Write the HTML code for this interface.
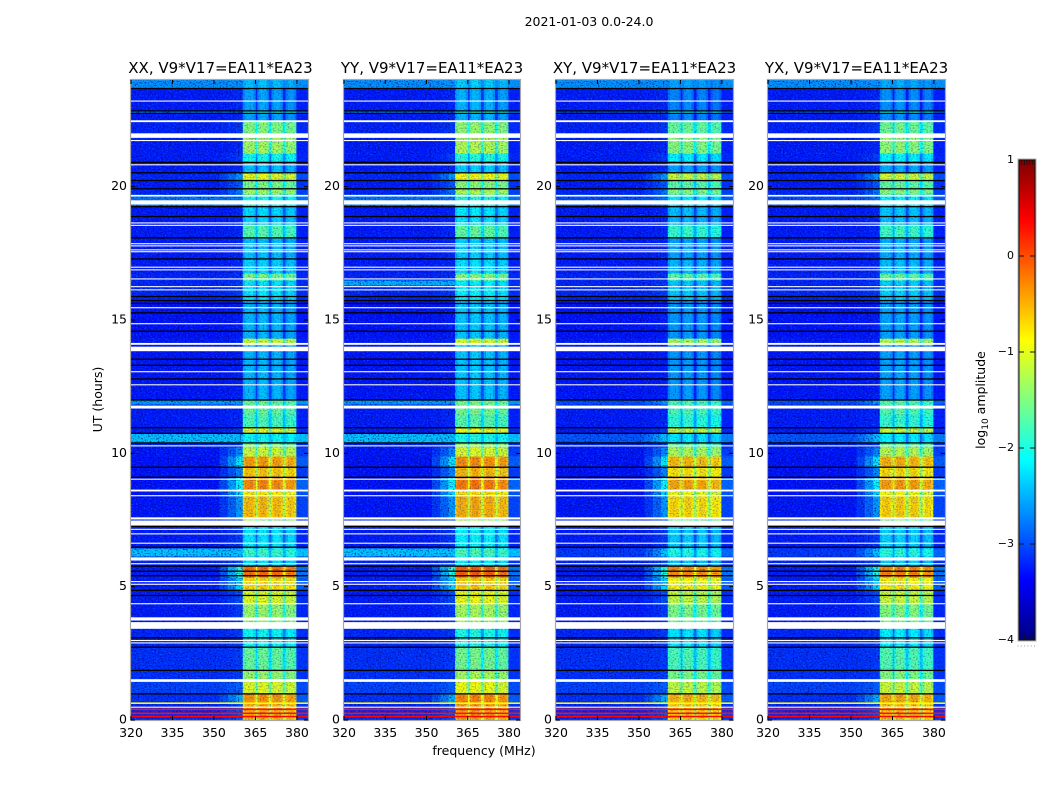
<!DOCTYPE html>
<html>
<head>
<meta charset="utf-8">
<title>2021-01-03 0.0-24.0</title>
<style>
html,body{margin:0;padding:0;background:#fff;}
svg{display:block;}
text{font-family:"DejaVu Sans","Liberation Sans",sans-serif;fill:#000;}
</style>
</head>
<body>
<svg id="chart" xmlns="http://www.w3.org/2000/svg" width="1050" height="800" viewBox="0 0 1050 800">
  <defs>
    <filter id="speckle" x="0" y="0" width="100%" height="100%" color-interpolation-filters="sRGB">
      <feTurbulence type="fractalNoise" baseFrequency="0.55 0.7" numOctaves="1" seed="7"/>
      <feColorMatrix type="matrix" values="0 0 0 0 0.05  0 0 0 0 0.55  0 0 0 0 1  3.4 0 0 0 -1.7"/>
    </filter>
    <filter id="darkle" x="0" y="0" width="100%" height="100%" color-interpolation-filters="sRGB">
      <feTurbulence type="fractalNoise" baseFrequency="0.6 0.75" numOctaves="1" seed="23"/>
      <feColorMatrix type="matrix" values="0 0 0 0 0  0 0 0 0 0  0 0 0 0 0.45  3.4 0 0 0 -1.7"/>
    </filter>
    <linearGradient id="cb-gradient" x1="0" y1="1" x2="0" y2="0"></linearGradient>
  </defs>
  <text x="589" y="26" text-anchor="middle" font-size="12.5">2021-01-03 0.0-24.0</text>
  <text transform="translate(102,399.5) rotate(-90)" text-anchor="middle" font-size="12.5">UT (hours)</text>
  <text x="484" y="755" text-anchor="middle" font-size="12.5">frequency (MHz)</text>
  <text transform="translate(985,400) rotate(-90)" text-anchor="middle" font-size="12.5">log<tspan font-size="9" dy="3">10</tspan><tspan dy="-3"> amplitude</tspan></text>
  <g id="panels"></g>
  <g id="colorbar"></g>
</svg>
<script>
// ---- panel categories ----
var panelTitles = ["XX, V9*V17=EA11*EA23", "YY, V9*V17=EA11*EA23", "XY, V9*V17=EA11*EA23", "YX, V9*V17=EA11*EA23"];
var panelBandShift = [0, 0.08, -0.15, -0.1];
var bandShift = [0, 0.03, 0, -0.08];
var gapDepth = 0.65;
var bandEdgeDrop = 0.15;

// ---- tick labels ----
var xTicks = [320, 335, 350, 365, 380];
var yTicks = [0, 5, 10, 15, 20];
var cbTicks = [-4, -3, -2, -1, 0, 1];

// ---- frequency structure (MHz) ----
var freqLimits = [320, 384];
var shoulderStops = [352, 355, 358, 360.4];
var shoulderWeights = [0.25, 0.6, 1];
var rightWingWeight = 0.35;
var bandStarts = [360.4, 365.7, 370.8, 375.9];
var bandEnds = [365.1, 369.8, 374.9, 379.8];
var bandEdgeWidth = 0.8;

// ---- time rows: hour edges, top to bottom, and log10 amplitude per row ----
var utLimits = [0, 24];
var rowEdges = [24,23.68,22.85,22.74,22.48,21.99,21.80,21.69,21.24,20.90,20.53,20.23,19.93,19.70,19.25,18.88,18.58,18.05,17.27,16.74,16.48,15.73,14.30,14.04,11.98,11.83,11.68,11.45,10.97,10.74,10.40,10.22,9.88,9.47,9.09,8.61,8.38,7.52,7.26,6.43,6.13,5.76,5.34,4.86,4.33,3.43,2.72,1.86,1.48,0.96,0.62,0];
var rowBgParallel = [-2.65,-3.25,-2.7,-3.25,-3.22,-3.22,-3.22,-3.25,-3.25,-3.25,-3.2,-3.25,-3.2,-2.8,-3.25,-3.25,-3.25,-3.25,-3.25,-3.2,-3.2,-3.3,-3.25,-3.28,-2.6,-3.2,-3.25,-3.25,-3.25,-2.4,-3.2,-3.28,-3.3,-3.3,-3.3,-3.3,-3.28,-3.2,-3.25,-2.38,-3.2,-3.25,-3.25,-3.25,-3.25,-3.2,-3.15,-3.15,-3.05,-3.15,-3.2];
var rowBgCross = [-2.65,-3.25,-2.9,-3.25,-3.22,-3.22,-3.22,-3.25,-3.25,-3.25,-3.2,-3.25,-3.2,-3.0,-3.25,-3.25,-3.25,-3.25,-3.25,-3.2,-3.2,-3.3,-3.25,-3.28,-3.0,-3.2,-3.25,-3.25,-3.25,-2.95,-3.2,-3.28,-3.3,-3.3,-3.3,-3.3,-3.28,-3.2,-3.25,-3.1,-3.2,-3.25,-3.25,-3.25,-3.25,-3.2,-3.15,-3.15,-3.05,-3.15,-3.2];
var rowShoulder = [-2.65,-3.2,-2.7,-3.2,-3.1,-3.1,-3.1,-3.2,-3.1,-3.2,-2.6,-2.95,-2.8,-2.8,-3.2,-3.2,-3.2,-3.2,-3.2,-3.15,-3.1,-3.25,-3.2,-3.25,-2.6,-3.15,-3.2,-3.2,-3.1,-2.4,-3.1,-2.7,-2.2,-2.7,-2.1,-2.3,-2.6,-3.0,-3.1,-2.38,-3.0,-1.95,-2.3,-3.0,-3.1,-3.1,-3.1,-3.1,-2.9,-2.5,-3.0];
var rowBand = [-2.4,-2.55,-1.9,-2.55,-1.45,-1.5,-0.75,-1.3,-2.0,-2.4,-0.95,-1.5,-1.3,-2.0,-2.25,-2.3,-1.7,-2.4,-2.3,-1.5,-2.2,-2.45,-1.1,-2.45,-1.6,-1.6,-1.6,-1.75,-1.0,-2.05,-1.4,-1.1,-0.4,-0.6,-0.3,-0.8,-0.55,-1.3,-2.2,-1.8,-2.2,-0.15,-0.7,-1.0,-1.35,-2.05,-1.6,-1.35,-1.0,-0.35,-0.5];

// ---- rows bright only in the YY panel, below the receiver band ----
var yyRowUpper = [16.48];
var yyRowLower = [16.29];
var yyRowValue = [-2.5];

// ---- flagged times: white gaps as [lower hour, upper hour], black samples as hours ----
var whiteGaps = [[23.19,23.23],[22.42,22.49],[21.83,22.0],[21.71,21.75],[20.80,20.84],[19.63,19.69],[19.33,19.49],[18.62,18.66],[18.53,18.57],[17.84,17.88],[17.76,17.80],[17.61,17.65],[17.54,17.58],[16.96,17.0],[16.86,16.90],[16.52,16.56],[16.23,16.27],[16.11,16.15],[15.44,15.48],[14.84,14.88],[14.07,14.14],[13.83,14.0],[13.04,13.08],[12.55,12.59],[11.68,11.79],[10.26,10.30],[9.01,9.05],[8.57,8.64],[8.39,8.43],[7.52,7.60],[7.29,7.48],[7.13,7.17],[6.96,7.0],[6.61,6.65],[5.98,6.10],[5.84,5.88],[5.17,5.21],[5.07,5.11],[4.34,4.38],[3.73,3.85],[3.42,3.67],[2.96,3.0],[2.87,2.91],[1.43,1.53],[0.46,0.50]];
var blackFlags = [23.68,22.84,22.75,20.91,20.52,20.23,19.92,19.25,18.88,18.08,17.29,15.88,15.73,15.62,15.27,14.58,13.53,13.30,12.79,12.0,10.96,10.75,10.39,9.48,9.10,7.26,6.48,5.77,5.58,5.41,4.86,4.67,3.08,2.73,1.86,0.98];
var spikeHours = [0.63,0.40,0.25,0.13];
var spikeValues = [-0.85,0.3,0.3,0.35];

// ---- layout ----
var panelLeft = [131, 344, 556, 768];
var panelWidth = [177, 176, 177, 177];
var plotTop = 80, plotBottom = 720;
var cbLeft = 1019, cbRight = 1035, cbTop = 160, cbBottom = 640;
var cbRange = [-4, 1];

var NS = "http://www.w3.org/2000/svg";
function mk(tag, attrs, parent) {
  var el = document.createElementNS(NS, tag);
  for (var k in attrs) el.setAttribute(k, attrs[k]);
  parent.appendChild(el);
  return el;
}
function xScale(p, f) { return panelLeft[p] + (f - freqLimits[0]) / (freqLimits[1] - freqLimits[0]) * panelWidth[p]; }
function yScale(h) { return plotBottom - (h - utLimits[0]) / (utLimits[1] - utLimits[0]) * (plotBottom - plotTop); }
function cbScale(v) { return cbBottom - (v - cbRange[0]) / (cbRange[1] - cbRange[0]) * (cbBottom - cbTop); }
function clamp01(v) { return Math.max(0, Math.min(1, v)); }
function jet(t) {
  var r = clamp01(Math.min(4 * t - 1.5, -4 * t + 4.5));
  var g = clamp01(Math.min(4 * t - 0.5, -4 * t + 3.5));
  var b = clamp01(Math.min(4 * t + 0.5, -4 * t + 2.5));
  return "rgb(" + Math.round(r * 255) + "," + Math.round(g * 255) + "," + Math.round(b * 255) + ")";
}
function ampColor(v) { return jet((v - cbRange[0]) / (cbRange[1] - cbRange[0])); }

var panelsRoot = document.getElementById("panels");

panelTitles.forEach(function (title, p) {
  var g = mk("g", {}, panelsRoot);
  
  
  var x0 = xScale(p, freqLimits[0]), x1 = xScale(p, freqLimits[1]);
  var cross = (p >= 2);

  rowBand.forEach(function (band, r) {
    var yA = yScale(rowEdges[r]), yB = yScale(rowEdges[r + 1]);
    var bg = cross ? rowBgCross[r] : rowBgParallel[r];
    var sh = Math.max(bg, rowShoulder[r]);
    var segs = [[freqLimits[0], shoulderStops[0], bg]];
    shoulderWeights.forEach(function (w, i) {
      segs.push([shoulderStops[i], shoulderStops[i + 1], bg + w * (sh - bg)]);
    });
    bandStarts.forEach(function (s, b) {
      var val = band + panelBandShift[p] + bandShift[b];
      segs.push([s, s + bandEdgeWidth, val - bandEdgeDrop]);
      segs.push([s + bandEdgeWidth, bandEnds[b] - bandEdgeWidth, val]);
      segs.push([bandEnds[b] - bandEdgeWidth, bandEnds[b], val - bandEdgeDrop]);
      if (b < 3) segs.push([bandEnds[b], bandStarts[b + 1], Math.max(bg, val - gapDepth)]);
    });
    segs.push([bandEnds[3], freqLimits[1], bg + rightWingWeight * (sh - bg)]);
    segs.forEach(function (s) {
      var el = mk("rect", { x: xScale(p, s[0]).toFixed(2), y: yA.toFixed(2), width: (xScale(p, s[1]) - xScale(p, s[0]) + 0.3).toFixed(2), height: (yB - yA + 0.3).toFixed(2), fill: ampColor(s[2]) }, g);
      
      
    });
  });

  if (p === 1) {
    yyRowValue.forEach(function (v, i) {
      var yy = mk("rect", { x: x0, y: yScale(yyRowUpper[i]).toFixed(2), width: xScale(p, bandStarts[0]) - x0, height: (yScale(yyRowLower[i]) - yScale(yyRowUpper[i])).toFixed(2), fill: ampColor(v) }, g);
      
      
    });
  }

  var xSplit = xScale(p, bandStarts[0]);
  var bgBright = mk("rect", { x: x0, y: plotTop, width: xSplit - x0, height: plotBottom - plotTop, filter: "url(#speckle)", opacity: 0.45 }, g);
  
  
  var bgDark = mk("rect", { x: x0, y: plotTop, width: xSplit - x0, height: plotBottom - plotTop, filter: "url(#darkle)", opacity: 0.8 }, g);
  
  
  var bandBright = mk("rect", { x: xSplit, y: plotTop, width: x1 - xSplit, height: plotBottom - plotTop, filter: "url(#speckle)", opacity: 0.3 }, g);
  
  
  var bandDark = mk("rect", { x: xSplit, y: plotTop, width: x1 - xSplit, height: plotBottom - plotTop, filter: "url(#darkle)", opacity: 0.4 }, g);
  
  

  spikeHours.forEach(function (h, i) {
    var el = mk("rect", { x: x0, y: (yScale(h) - 0.8).toFixed(2), width: x1 - x0, height: 1.6, fill: ampColor(spikeValues[i]) }, g);
    
    
  });
  whiteGaps.forEach(function (w) {
    var el = mk("rect", { x: x0, y: yScale(w[1]).toFixed(2), width: x1 - x0, height: (yScale(w[0]) - yScale(w[1])).toFixed(2), fill: "#fff" }, g);
    
    
  });
  blackFlags.forEach(function (h) {
    var el = mk("rect", { x: x0, y: (yScale(h) - 0.65).toFixed(2), width: x1 - x0, height: 1.3, fill: "#000" }, g);
    
    
  });

  var frame = mk("rect", { x: x0 - 0.5, y: plotTop - 0.5, width: x1 - x0 + 1, height: plotBottom - plotTop + 1, fill: "none", stroke: "#a8a8a8", "stroke-width": 1.2 }, g);
  
  

  var tt = mk("text", { x: (x0 + x1) / 2 + (p === 0 ? 1 : 0), y: 73, "text-anchor": "middle", "font-size": 15 }, g);
  tt.textContent = title;
  
  

  xTicks.forEach(function (f) {
    var x = xScale(p, f);
    var a = mk("line", { x1: x, x2: x, y1: plotBottom, y2: plotBottom - 4, stroke: "#000", "stroke-width": 1 }, g);
    
    
    var b = mk("line", { x1: x, x2: x, y1: plotTop, y2: plotTop + 4, stroke: "#000", "stroke-width": 1 }, g);
    
    
    var t = mk("text", { x: x, y: 737, "text-anchor": "middle", "font-size": 12.5 }, g);
    t.textContent = f;
    
    
  });
  yTicks.forEach(function (h) {
    var y = yScale(h);
    var a = mk("line", { x1: x0, x2: x0 + 4, y1: y, y2: y, stroke: "#000", "stroke-width": 1 }, g);
    
    
    var b = mk("line", { x1: x1, x2: x1 - 4, y1: y, y2: y, stroke: "#000", "stroke-width": 1 }, g);
    
    
    var t = mk("text", { x: x0 - 4, y: y + 3.5, "text-anchor": "end", "font-size": 12.5 }, g);
    t.textContent = h;
    
    
  });
});

// ---- colour bar ----
var cb = document.getElementById("colorbar");
var grad = document.getElementById("cb-gradient");
for (var i = 0; i <= 32; i++) {
  var stop = mk("stop", { offset: (i / 32).toFixed(4), "stop-color": jet(i / 32) }, grad);
}
var cbRect = mk("rect", { x: cbLeft, y: cbTop, width: cbRight - cbLeft, height: cbBottom - cbTop, fill: "url(#cb-gradient)" }, cb);


var cbOuter = mk("rect", { x: cbLeft - 1, y: cbTop - 1, width: cbRight - cbLeft + 2, height: cbBottom - cbTop + 2, fill: "none", stroke: "#b0b0b0", "stroke-width": 1 }, cb);


var cbInner = mk("rect", { x: cbLeft, y: cbTop, width: cbRight - cbLeft, height: cbBottom - cbTop, fill: "none", stroke: "#111", "stroke-width": 1 }, cb);



cbTicks.forEach(function (v) {
  var y = cbScale(v);
  var label = mk("text", { x: cbLeft - 5, y: y + 3, "text-anchor": "end", "font-size": 11 }, cb);
  label.textContent = v < 0 ? "\u2212" + Math.abs(v) : String(v);
  
  
  if (v === cbRange[0] || v === cbRange[1]) {
    for (var m = 1; m <= 5; m++) {
      var xm = cbLeft + m * (cbRight - cbLeft) / 6;
      var t = mk("line", { x1: xm, x2: xm, y1: y, y2: v === cbRange[0] ? y - 5 : y + 5, stroke: "#111", "stroke-width": 0.8 }, cb);
      
      
    }
  } else {
    var l = mk("line", { x1: cbLeft, x2: cbLeft + 5, y1: y, y2: y, stroke: "#111", "stroke-width": 1 }, cb);
    
    
    var r = mk("line", { x1: cbRight - 5, x2: cbRight, y1: y, y2: y, stroke: "#111", "stroke-width": 1 }, cb);
    
    
  }
});
for (var d = 0; d < 6; d++) {
  var dot = mk("rect", { x: 1017.5 + d * 3.3, y: 645.5, width: 1, height: 1, fill: "#999" }, cb);
  
  
}
</script>
</body>
</html>
